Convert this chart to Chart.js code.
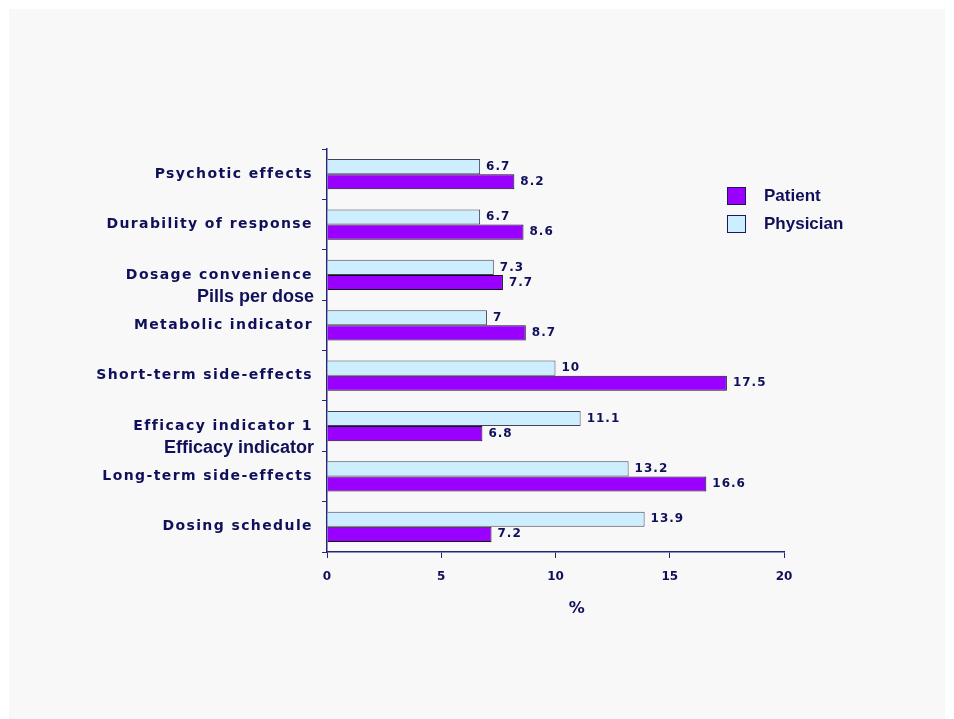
<!DOCTYPE html>
<html>
<head>
<meta charset="utf-8">
<title>Attribute importance: patient vs physician</title>
<script src="https://cdn.jsdelivr.net/npm/chart.js@4/dist/chart.umd.min.js"></script>
<style>
  html, body { margin: 0; padding: 0; background: #ffffff; }
  #panel { position: absolute; left: 9px; top: 9px; width: 936px; height: 710px; background: #f8f8f8; }
  #wrap { position: absolute; left: 0; top: 0; width: 954px; height: 719px; }
  .legend { position: absolute; left: 727px; font: bold 17px "Liberation Sans", Arial, sans-serif; color: #10105a; }
  .legend div { position: relative; height: 28px; line-height: 18px; padding-left: 37px; }
  .legend i { position: absolute; left: 0; top: 0; width: 17px; height: 16px; border: 1px solid #1a1a5a; }
</style>
</head>
<body>
<div id="panel"></div>
<div id="wrap"><canvas id="c" width="954" height="719"></canvas></div>
<div class="legend" style="top:187px">
  <div><i style="background:#9900ff"></i>Patient</div>
  <div><i style="background:#cceeff"></i>Physician</div>
</div>
<script>
// ranked attributes, top to bottom
const categories = [
  "Psychotic effects", "Durability of response", "Dosage convenience",
  "Metabolic indicator", "Short-term side-effects", "Efficacy indicator 1",
  "Long-term side-effects", "Dosing schedule",
];
// second caption line printed under some attributes
const subLabels = ["", "", "Pills per dose", "", "", "Efficacy indicator", "", ""];
const physician = [6.7, 6.7, 7.3, 7, 10, 11.1, 13.2, 13.9];
const patient = [8.2, 8.6, 7.7, 8.7, 17.5, 6.8, 16.6, 7.2];
const xTicks = [0, 5, 10, 15, 20];
const xTitle = "%";

const NAVY = "#10105a";
const AXIS = "#24247a";

// attribute names beside the category axis (two fonts per label) + axis title
const axisText = {
  id: "axisText",
  afterDraw(chart) {
    const { ctx, chartArea } = chart;
    const y = chart.scales.y;
    const right = chartArea.left - 14;
    ctx.save();
    ctx.fillStyle = NAVY;
    ctx.textAlign = "right";
    ctx.textBaseline = "middle";
    categories.forEach((name, i) => {
      const py = y.getPixelForValue(i);
      ctx.font = 'bold 14px "DejaVu Sans"';
      ctx.letterSpacing = "1.4px";
      ctx.fillText(name, right, py);
      if (subLabels[i]) {
        ctx.font = 'bold 18px "Liberation Sans"';
        ctx.letterSpacing = "0px";
        ctx.fillText(subLabels[i], right + 1, py + 22);
      }
    });
    // "%" sits a little right of the axis middle
    ctx.textAlign = "center";
    ctx.font = 'bold 16px "DejaVu Sans"';
    ctx.fillText(xTitle, chartArea.left + chartArea.width * 0.548, chartArea.bottom + 57);
    ctx.restore();
  },
};

// value printed just past the end of every bar
const barValues = {
  id: "barValues",
  afterDatasetsDraw(chart) {
    const { ctx } = chart;
    ctx.save();
    ctx.fillStyle = NAVY;
    ctx.font = 'bold 12px "DejaVu Sans"';
    ctx.letterSpacing = "1px";
    ctx.textBaseline = "middle";
    chart.data.datasets.forEach((ds, i) => {
      chart.getDatasetMeta(i).data.forEach((bar, j) => {
        ctx.fillText(String(ds.data[j]), bar.x + 6, bar.y);
      });
    });
    ctx.restore();
  },
};

new Chart(document.getElementById("c"), {
  type: "bar",
  data: {
    labels: categories,
    datasets: [
      { label: "Physician", data: physician, backgroundColor: "#cceeff", borderColor: "#444455", borderWidth: 1 },
      { label: "Patient", data: patient, backgroundColor: "#9900ff", borderColor: "#111111", borderWidth: 1 },
    ],
  },
  options: {
    indexAxis: "y",
    responsive: false,
    animation: false,
    categoryPercentage: 0.6,
    barPercentage: 1.0,
    layout: { padding: { left: 0, top: 149, right: 170, bottom: 99 } },
    plugins: { legend: { display: false }, tooltip: { enabled: false } },
    scales: {
      y: {
        grid: { offset: true, drawOnChartArea: false, drawTicks: true, tickLength: 5, color: AXIS, lineWidth: 1 },
        border: { color: AXIS, width: 1.5 },
        ticks: { display: false },
        afterFit(s) { s.width = 327; },
      },
      x: {
        min: xTicks[0],
        max: xTicks[xTicks.length - 1],
        afterBuildTicks(s) { s.ticks = xTicks.map((v) => ({ value: v })); },
        grid: { drawOnChartArea: false, drawTicks: true, tickLength: 6, color: AXIS, lineWidth: 1 },
        border: { color: AXIS, width: 1.5 },
        ticks: { color: NAVY, padding: 12, font: { family: "DejaVu Sans", size: 12, weight: "bold" } },
        afterFit(s) { s.height = 68; },
      },
    },
  },
  plugins: [axisText, barValues],
});
</script>
</body>
</html>
